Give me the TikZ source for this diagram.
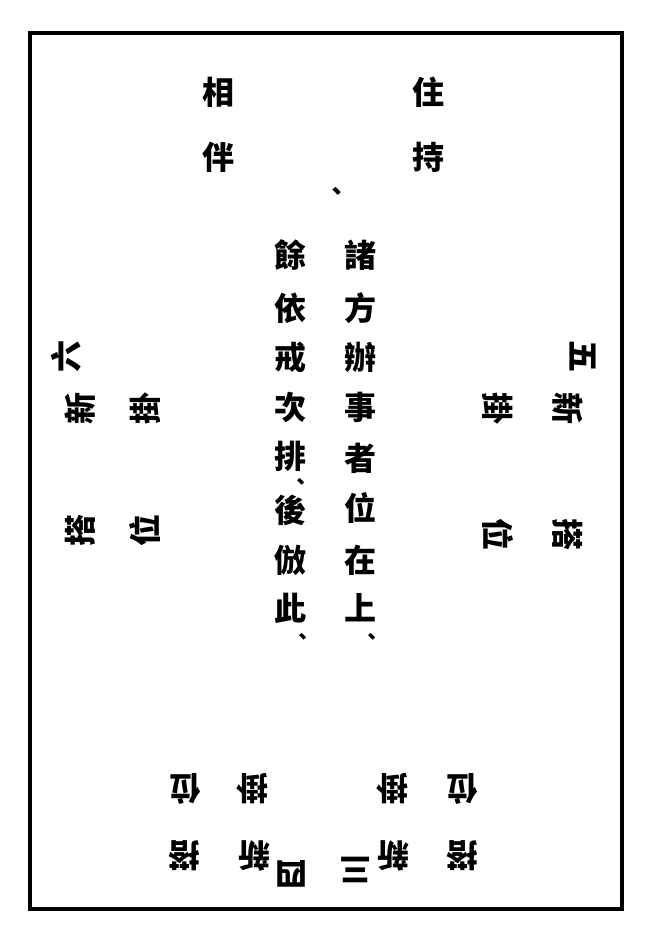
\documentclass[tikz,border=0pt]{standalone}
\usepackage{fontspec}
\newfontfamily\cjk{Noto Sans CJK TC}
\begin{document}
\begin{tikzpicture}[x=1pt,y=-1pt,
  ch/.style={font=\cjk\bfseries\fontsize{32}{32}\selectfont, inner sep=0pt},
  lt/.style={ch, rotate=90},
  rt/.style={ch, rotate=-90},
  bt/.style={ch, rotate=180},
  mk/.style={ch, font=\cjk\bfseries\fontsize{21}{21}\selectfont},
  frame/.style={line width=3.3pt}]
\useasboundingbox (0,0) rectangle (657,942);
\draw[frame] (30,33) rectangle (622,909);
% top
\node[ch] (zhu) at (428,92) {住};
\node[ch] (chi) at (428,157) {持};
\node[ch] (xiang) at (218,92) {相};
\node[ch] (ban) at (218,157) {伴};
\node[mk, font=\cjk\bfseries\fontsize{25}{25}\selectfont] (dun0) at (337,194) {、};
% centre right column
\node[ch] (r1) at (360,255) {諸};
\node[ch] (r2) at (360,308) {方};
\node[ch] (r3) at (360,357) {辦};
\node[ch] (r4) at (360,407) {事};
\node[ch] (r5) at (360,458) {者};
\node[ch] (r6) at (360,508) {位};
\node[ch] (r7) at (360,560) {在};
\node[ch] (r8) at (360,608) {上};
\node[mk] (rd) at (372,639) {、};
% centre left column
\node[ch] (l1) at (290,255) {餘};
\node[ch] (l2) at (290,308) {依};
\node[ch] (l3) at (290,357) {戒};
\node[ch] (l4) at (290,407) {次};
\node[ch] (l5) at (290,456) {排};
\node[mk] (ld1) at (301,484) {、};
\node[ch] (l6) at (290,510) {後};
\node[ch] (l7) at (290,560) {倣};
\node[ch] (l8) at (290,608) {此};
\node[mk] (ld2) at (303,639) {、};
% left side (six)
\node[lt] (liu) at (66,356) {六};
\node[lt] (lxin) at (80,408) {新};
\node[lt] (lgua) at (145,408) {掛};
\node[lt] (lda) at (80,530) {搭};
\node[lt] (lwei) at (145,530) {位};
% right side (five)
\node[rt] (wu) at (583,356) {五};
\node[rt] (rxin) at (568,408) {新};
\node[rt] (rgua) at (498,408) {掛};
\node[rt] (rda) at (568,534) {搭};
\node[rt] (rwei) at (498,534) {位};
% bottom (three)
\node[bt] (san) at (355,870) {三};
\node[bt] (bxin3) at (393,856) {新};
\node[bt] (bgua3) at (392,789) {掛};
\node[bt] (bda3) at (462,856) {搭};
\node[bt] (bwei3) at (462,789) {位};
% bottom (four)
\node[bt] (si) at (291,874) {四};
\node[bt] (bxin4) at (254,856) {新};
\node[bt] (bgua4) at (252,789) {掛};
\node[bt] (bda4) at (184,856) {搭};
\node[bt] (bwei4) at (185,789) {位};
\end{tikzpicture}
\end{document}
